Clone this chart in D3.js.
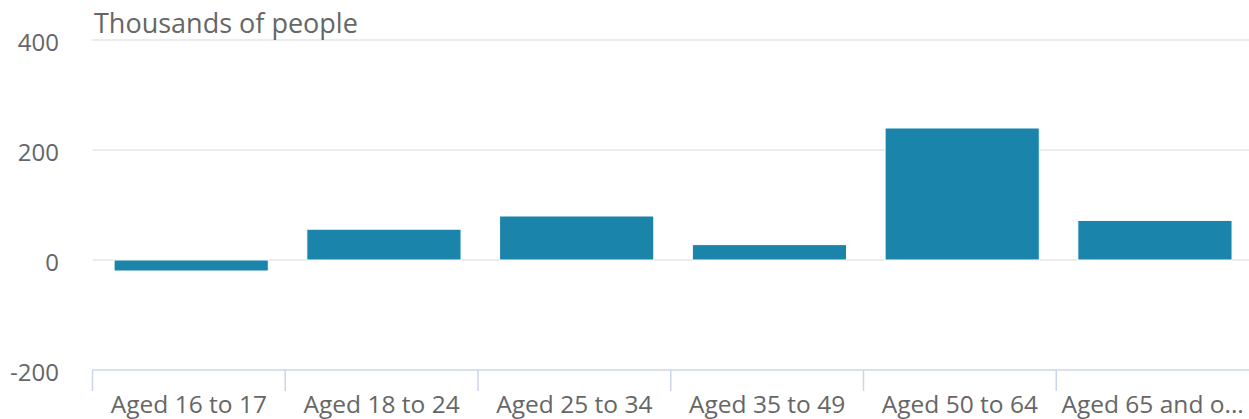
<!DOCTYPE html>
<html>
<head>
<meta charset="utf-8">
<script src="https://cdn.jsdelivr.net/npm/d3@7"></script>
<style>
  body { margin: 0; background: #fff; }
  text { font-family: 'Open Sans', 'Noto Sans', sans-serif; fill: #666; }
</style>
</head>
<body>
<div id="chart"></div>
<script>
// data
const categories = ['Aged 16 to 17', 'Aged 18 to 24', 'Aged 25 to 34', 'Aged 35 to 49', 'Aged 50 to 64', 'Aged 65 and over']
const values = [-20, 56, 80, 28, 240, 72]
const yTicks = [-200, 0, 200, 400]
const yTitle = 'Thousands of people'

const dimensions = {
  width: 1249,
  height: 419,
  left: 92.5,
  right: 1249,
  top: 40,
  bottom: 370,
}

const svg = d3
  .select('#chart')
  .append('svg')
  .attr('width', dimensions.width)
  .attr('height', dimensions.height)

const yScale = d3
  .scaleLinear()
  .domain([-200, 400])
  .range([dimensions.bottom, dimensions.top])

const xScale = d3
  .scaleBand()
  .domain(categories)
  .range([dimensions.left, dimensions.right])
  .paddingInner(0.2)
  .paddingOuter(0.1)
  .align(0.56)

// gridlines
svg
  .append('g')
  .selectAll('line')
  .data(yTicks.filter((d) => d !== -200))
  .join('line')
  .attr('x1', dimensions.left)
  .attr('x2', dimensions.right)
  .attr('y1', (d) => yScale(d))
  .attr('y2', (d) => yScale(d))
  .attr('stroke', '#e6e6e6')
  .attr('stroke-width', 1.5)

// y tick labels
svg
  .append('g')
  .selectAll('text')
  .data(yTicks)
  .join('text')
  .attr('x', 59)
  .attr('y', (d) => yScale(d) + 11)
  .attr('text-anchor', 'end')
  .style('font-size', '24px')
  .text((d) => d)

// axis title
svg
  .append('text')
  .attr('x', 94)
  .attr('y', 33)
  .style('font-size', '27px')
  .text(yTitle)

// bars
svg
  .append('g')
  .selectAll('rect')
  .data(values)
  .join('rect')
  .attr('x', (d, i) => xScale(categories[i]))
  .attr('width', xScale.bandwidth())
  .attr('y', (d) => yScale(Math.max(0, d)))
  .attr('height', (d) => Math.abs(yScale(d) - yScale(0)))
  .attr('fill', '#1b84ab')
  .attr('stroke', '#ffffff')
  .attr('stroke-width', 1)

// x axis
const step = xScale.step()
const xAxis = svg.append('g')
xAxis
  .append('line')
  .attr('x1', dimensions.left)
  .attr('x2', dimensions.right)
  .attr('y1', dimensions.bottom)
  .attr('y2', dimensions.bottom)
  .attr('stroke', '#ccd6eb')
  .attr('stroke-width', 1.5)

xAxis
  .selectAll('.tick')
  .data(d3.range(categories.length))
  .join('line')
  .attr('x1', (i) => dimensions.left + i * step)
  .attr('x2', (i) => dimensions.left + i * step)
  .attr('y1', dimensions.bottom)
  .attr('y2', dimensions.bottom + 21)
  .attr('stroke', '#ccd6eb')
  .attr('stroke-width', 1.5)

const labels = xAxis
  .selectAll('.label')
  .data(categories)
  .join('text')
  .attr('x', (d, i) => dimensions.left + (i + 0.5) * step)
  .attr('y', 413)
  .attr('text-anchor', 'middle')
  .style('font-size', '24.5px')
  .text((d) => d)

// shorten labels that don't fit their band
labels.each(function (d) {
  const el = d3.select(this)
  let s = d
  while (this.getComputedTextLength() > step - 4 && s.length > 1) {
    s = s.slice(0, -1)
    el.text(s.trimEnd() + '...')
  }
})
</script>
</body>
</html>
